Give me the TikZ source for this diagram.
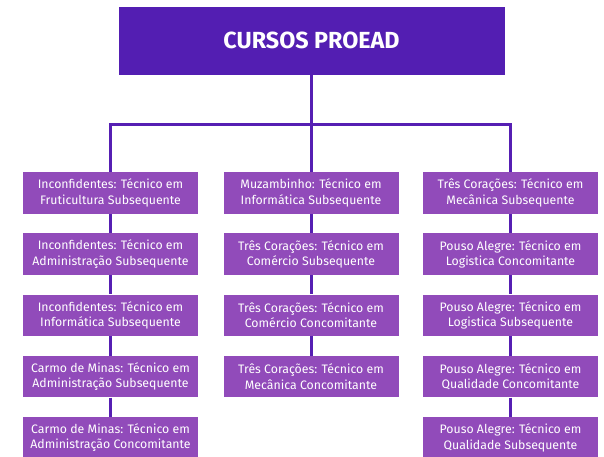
\documentclass[tikz,border=0pt]{standalone}
\usepackage{fontspec}
\setmainfont{Fira Sans}
\definecolor{titlepurple}{HTML}{531EB2}
\definecolor{boxpurple}{HTML}{914BBA}
\definecolor{linepurple}{HTML}{561FB3}
\begin{document}
\begin{tikzpicture}[x=1pt,y=-1pt,
  titlebox/.style={fill=titlepurple, text=white, minimum width=386pt, minimum height=67.7pt, inner sep=0pt, font=\fontsize{23.3}{27}\selectfont\bfseries},
  coursebox/.style={fill=boxpurple, text=white, minimum width=175pt, minimum height=41.7pt, inner sep=0pt, align=center, font=\fontsize{12.3}{15.3}\selectfont},
  link/.style={draw=linepurple, line width=3pt}]
\useasboundingbox (0,0) rectangle (604,456);
\node[titlebox] (title) at (311.5,40.85) {CURSOS PROEAD};
% column A
\node[coursebox] (a1) at (110.5,192.85) {Inconfidentes: Técnico em\\Fruticultura Subsequente};
\node[coursebox] (a2) at (110.5,254.1) {Inconfidentes: Técnico em\\Administração Subsequente};
\node[coursebox] (a3) at (110.5,315.35) {Inconfidentes: Técnico em\\Informática Subsequente};
\node[coursebox] (a4) at (110.5,376.6) {Carmo de Minas: Técnico em\\Administração Subsequente};
\node[coursebox] (a5) at (110.5,437.85) {Carmo de Minas: Técnico em\\Administração Concomitante};
% column B
\node[coursebox] (b1) at (311,192.85) {Muzambinho: Técnico em\\Informática Subsequente};
\node[coursebox] (b2) at (311,254.1) {Três Corações: Técnico em\\Comércio Subsequente};
\node[coursebox] (b3) at (311,315.35) {Três Corações: Técnico em\\Comércio Concomitante};
\node[coursebox] (b4) at (311,376.6) {Três Corações: Técnico em\\Mecânica Concomitante};
% column C
\node[coursebox] (c1) at (510.5,192.85) {Três Corações: Técnico em\\Mecânica Subsequente};
\node[coursebox] (c2) at (510.5,254.1) {Pouso Alegre: Técnico em\\Logistica Concomitante};
\node[coursebox] (c3) at (510.5,315.35) {Pouso Alegre: Técnico em\\Logistica Subsequente};
\node[coursebox] (c4) at (510.5,376.6) {Pouso Alegre: Técnico em\\Qualidade Concomitante};
\node[coursebox] (c5) at (510.5,437.85) {Pouso Alegre: Técnico em\\Qualidade Subsequente};
\coordinate (bus) at (311,124.7);
% connectors
\draw[link] (title.south -| b1.north) -- (b1.north);
\draw[link] (a1.north) -- (a1.north |- bus) -- (c1.north |- bus) -- (c1.north);
\draw[link] (a1.south) -- (a2.north) (a2.south) -- (a3.north) (a3.south) -- (a4.north) (a4.south) -- (a5.north);
\draw[link] (b1.south) -- (b2.north) (b2.south) -- (b3.north) (b3.south) -- (b4.north);
\draw[link] (c1.south) -- (c2.north) (c2.south) -- (c3.north) (c3.south) -- (c4.north) (c4.south) -- (c5.north);
\end{tikzpicture}
\end{document}
